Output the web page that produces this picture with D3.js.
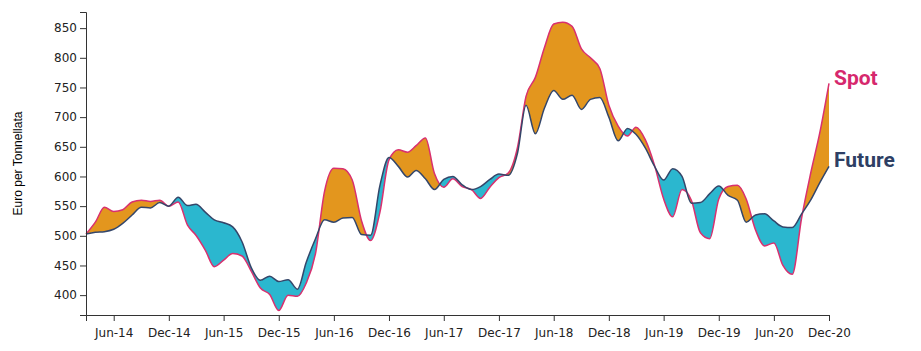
<html>
  <head>
    <meta charset="utf-8">
    <title>Spot vs Future</title>
    <style>
      body{ margin:0; background:#fff; }
      .axis text{ font:12px "DejaVu Sans", sans-serif; fill:#222; }
      .axis path, .axis line{ stroke:#333; }
    </style>
    <script src="https://d3js.org/d3.v7.min.js"></script>
  </head>
  <body>
    <script>
      // monthly observations, Mar-14 .. Dec-20
      var months = [
        "2014-03","2014-04","2014-05","2014-06","2014-07","2014-08","2014-09","2014-10","2014-11","2014-12",
        "2015-01","2015-02","2015-03","2015-04","2015-05","2015-06","2015-07","2015-08","2015-09","2015-10","2015-11","2015-12",
        "2016-01","2016-02","2016-03","2016-04","2016-05","2016-06","2016-07","2016-08","2016-09","2016-10","2016-11","2016-12",
        "2017-01","2017-02","2017-03","2017-04","2017-05","2017-06","2017-07","2017-08","2017-09","2017-10","2017-11","2017-12",
        "2018-01","2018-02","2018-03","2018-04","2018-05","2018-06","2018-07","2018-08","2018-09","2018-10","2018-11","2018-12",
        "2019-01","2019-02","2019-03","2019-04","2019-05","2019-06","2019-07","2019-08","2019-09","2019-10","2019-11","2019-12",
        "2020-01","2020-02","2020-03","2020-04","2020-05","2020-06","2020-07","2020-08","2020-09","2020-10","2020-11","2020-12"
      ];

      var spot = [
        503,523,548,541,544,557,560,558,560,550,
        557,518,501,476,448,459,470,466,440,412,401,374,
        400,398,420,470,575,614,613,594,525,492,540,628,
        645,641,652,665,605,582,596,583,578,563,582,598,
        606,650,735,767,817,857,860,853,815,800,782,720,
        685,668,683,662,620,562,532,578,560,505,495,562,
        583,585,562,510,483,488,450,435,530,605,675,757
      ];

      var future = [
        503,506,507,511,521,535,548,547,556,550,
        565,551,553,540,527,522,515,490,446,425,432,423,
        426,410,455,495,527,523,530,531,502,501,585,632,
        617,599,610,596,578,595,600,586,578,583,595,604,
        602,640,720,672,715,745,730,737,713,730,733,700,
        660,681,671,648,618,594,613,600,555,556,571,584,
        568,560,523,535,537,525,515,514,537,560,590,617
      ];

      var tickMonths = ["2014-06","2014-12","2015-06","2015-12","2016-06","2016-12","2017-06",
                        "2017-12","2018-06","2018-12","2019-06","2019-12","2020-06","2020-12"];
      var yTicks = [400,450,500,550,600,650,700,750,800,850];

      var margin = {top:12, right:92, bottom:36, left:86},
          width = 921 - margin.left - margin.right,
          height = 351 - margin.top - margin.bottom;

      var parse = d3.timeParse("%Y-%m");

      var data = months.map((m,i)=>({date:parse(m), spot:spot[i], future:future[i]}));

      var x = d3.scaleTime()
                .domain(d3.extent(data, d=>d.date))
                .range([0,width]);

      var lo = d3.min(data, d=>Math.min(d.spot,d.future)),
          hi = d3.max(data, d=>Math.max(d.spot,d.future));
      var y = d3.scaleLinear()
                .domain([lo*0.98, hi*1.02])
                .range([height,0]);

      var svg = d3.select("body").append("svg")
                  .attr("width",921)
                  .attr("height",351)
                .append("g")
                  .attr("transform","translate("+margin.left+","+margin.top+")");

      var curve = d3.curveMonotoneX;

      var clipAbove = d3.area().curve(curve)
                        .x(d=>x(d.date)).y0(0).y1(d=>y(d.future));
      var clipBelow = d3.area().curve(curve)
                        .x(d=>x(d.date)).y0(height).y1(d=>y(d.future));
      var between = d3.area().curve(curve)
                      .x(d=>x(d.date)).y0(d=>y(d.spot)).y1(d=>y(d.future));

      var spotLine = d3.line().curve(curve).x(d=>x(d.date)).y(d=>y(d.spot));
      var futureLine = d3.line().curve(curve).x(d=>x(d.date)).y(d=>y(d.future));

      var defs = svg.append("defs");
      defs.append("clipPath").attr("id","clip-above")
          .append("path").attr("d",clipAbove(data));
      defs.append("clipPath").attr("id","clip-below")
          .append("path").attr("d",clipBelow(data));

      svg.append("path")
         .attr("clip-path","url(#clip-above)")
         .attr("fill","#e3961e")
         .attr("d",between(data));

      svg.append("path")
         .attr("clip-path","url(#clip-below)")
         .attr("fill","#2bb7cf")
         .attr("d",between(data));

      svg.append("path")
         .attr("fill","none")
         .attr("stroke","#d9306f")
         .attr("stroke-width",1.5)
         .attr("d",spotLine(data));

      svg.append("path")
         .attr("fill","none")
         .attr("stroke","#34466a")
         .attr("stroke-width",1.5)
         .attr("d",futureLine(data));

      svg.append("g")
         .attr("class","axis")
         .attr("transform","translate(0,"+height+")")
         .call(d3.axisBottom(x)
                 .tickValues(tickMonths.map(parse))
                 .tickFormat(d3.timeFormat("%b-%y")))
         .selectAll("text").attr("dy","1.1em");

      svg.append("g")
         .attr("class","axis")
         .call(d3.axisLeft(y).tickValues(yTicks));

      svg.append("text")
         .attr("transform","rotate(-90)")
         .attr("x",-height/2)
         .attr("y",-margin.left+22)
         .attr("text-anchor","middle")
         .style("font","12px 'Liberation Sans', Arial, sans-serif")
         .text("Euro per Tonnellata");

      var last = data[data.length-1];
      svg.append("text")
         .attr("x",width+5)
         .attr("y",y(last.spot)+2)
         .style("font","bold 21px Roboto, sans-serif")
         .attr("fill","#d6286d")
         .text("Spot");
      svg.append("text")
         .attr("x",width+5)
         .attr("y",y(last.future)+1)
         .style("font","bold 21px Roboto, sans-serif")
         .attr("fill","#2e3f64")
         .text("Future");
    </script>
  </body>
</html>
